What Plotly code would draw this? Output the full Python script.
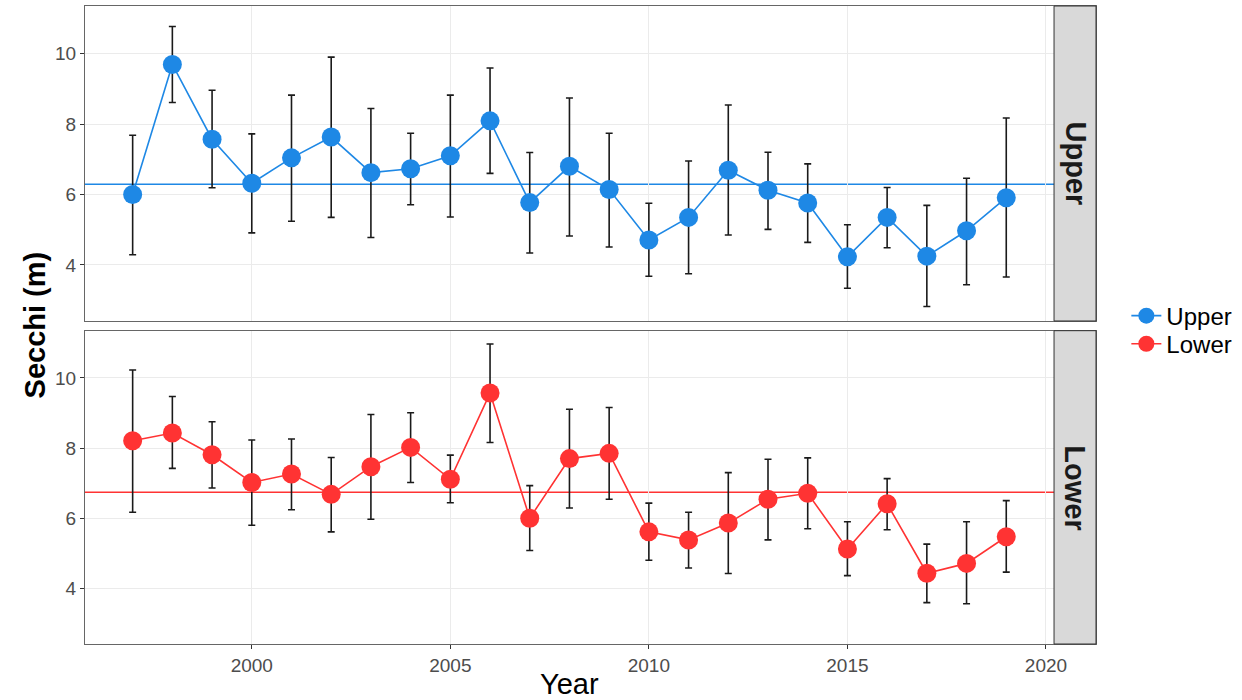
import plotly.graph_objects as go

# ---------------- data ----------------
years = list(range(1997, 2020))

upper_mean = [6.00, 9.69, 7.57, 6.32, 7.04, 7.63, 6.62, 6.73, 7.10, 8.09, 5.77, 6.80,
              6.14, 4.71, 5.35, 6.69, 6.12, 5.76, 4.23, 5.35, 4.25, 4.97, 5.91]
upper_hi = [7.68, 10.77, 8.96, 7.72, 8.82, 9.90, 8.44, 7.74, 8.82, 9.59, 7.19, 8.74,
            7.74, 5.75, 6.95, 8.54, 7.20, 6.87, 5.14, 6.20, 5.69, 6.46, 8.17]
upper_lo = [4.29, 8.61, 6.19, 4.91, 5.24, 5.35, 4.78, 5.71, 5.36, 6.60, 4.34, 4.82,
            4.51, 3.68, 3.75, 4.85, 5.01, 4.64, 3.34, 4.49, 2.82, 3.44, 3.66]

lower_mean = [8.21, 8.43, 7.81, 7.02, 7.26, 6.68, 7.47, 8.02, 7.11, 9.57, 6.00, 7.70,
              7.85, 5.61, 5.38, 5.86, 6.54, 6.71, 5.12, 6.41, 4.43, 4.71, 5.47]
lower_hi = [10.23, 9.47, 8.75, 8.23, 8.26, 7.73, 8.96, 9.01, 7.80, 10.97, 6.93, 9.11,
            9.16, 6.43, 6.17, 7.30, 7.68, 7.72, 5.90, 7.13, 5.26, 5.90, 6.50]
lower_lo = [6.17, 7.42, 6.86, 5.80, 6.24, 5.61, 5.97, 7.02, 6.44, 8.16, 5.08, 6.29,
            6.54, 4.80, 4.58, 4.42, 5.38, 5.70, 4.36, 5.67, 3.59, 3.56, 4.46]

overall_means = {"Upper": 6.29, "Lower": 6.74}
panels = ["Upper", "Lower"]
x_ticks = [2000, 2005, 2010, 2015, 2020]
y_ticks = [4, 6, 8, 10]

# ---------------- styling ----------------
COLORS = {"Upper": "#1E88E5", "Lower": "#FF3333"}
FONT = "Liberation Sans, Arial, Helvetica, sans-serif"
FRAME = "#666666"
GRID = "#ebebeb"
TICKFONT = dict(family=FONT, size=19, color="#4d4d4d")

X_RANGE = [1995.80, 2021.26]
Y_RANGE = [2.41, 11.35]
UP_DOM = [0.5063, 1.0]
LO_DOM = [0.0, 0.4911]
STRIP_X0 = 0.9585

data = {
    "Upper": (upper_mean, upper_hi, upper_lo, "x2", "y2", "legend", 0.514),
    "Lower": (lower_mean, lower_hi, lower_lo, "x", "y", "legend2", 0.470),
}

fig = go.Figure()

# error bars first (below lines and points)
for p in panels:
    m, hi, lo, xa, ya, _, _ = data[p]
    fig.add_trace(go.Scatter(
        x=years, y=m, mode="markers", xaxis=xa, yaxis=ya,
        marker=dict(size=1, color="rgba(0,0,0,0)"),
        error_y=dict(type="data", symmetric=False,
                     array=[h - v for h, v in zip(hi, m)],
                     arrayminus=[v - l for l, v in zip(lo, m)],
                     color="#1a1a1a", thickness=1.6, width=3.5),
        showlegend=False, hoverinfo="skip",
    ))

for p in panels:
    m, hi, lo, xa, ya, lg, _ = data[p]
    fig.add_trace(go.Scatter(
        x=years, y=m, mode="lines+markers", xaxis=xa, yaxis=ya, name=p,
        legend=lg,
        line=dict(color=COLORS[p], width=1.6),
        marker=dict(size=19, color=COLORS[p], line=dict(width=0)),
    ))

axis_common = dict(
    showline=True, linecolor=FRAME, linewidth=1, mirror=True,
    showgrid=True, gridcolor=GRID, gridwidth=1.3, zeroline=False,
    ticklen=4, tickcolor="#333333", tickwidth=1,
    tickfont=TICKFONT, automargin=False,
)

legend_common = dict(xanchor="left", yanchor="middle",
                     font=dict(family=FONT, size=24, color="black"),
                     bgcolor="rgba(0,0,0,0)", itemwidth=30)

fig.update_layout(
    width=1242, height=700,
    margin=dict(l=85, r=145, t=6, b=56),
    paper_bgcolor="white", plot_bgcolor="white",
    font=dict(family=FONT),
    xaxis=dict(domain=[0, 1], anchor="y", range=X_RANGE, tickvals=x_ticks,
               ticks="outside", **axis_common),
    xaxis2=dict(domain=[0, 1], anchor="y2", range=X_RANGE, tickvals=x_ticks,
                matches="x", showticklabels=False, ticks="", **axis_common),
    yaxis=dict(domain=LO_DOM, anchor="x", range=Y_RANGE, tickvals=y_ticks,
               ticks="outside", **axis_common),
    yaxis2=dict(domain=UP_DOM, anchor="x2", range=Y_RANGE, tickvals=y_ticks,
                ticks="outside", **axis_common),
    legend=dict(x=1.029, y=data["Upper"][6], **legend_common),
    legend2=dict(x=1.029, y=data["Lower"][6], **legend_common),
)

# overall mean lines
for p, ya in (("Upper", "y2"), ("Lower", "y")):
    fig.add_shape(type="line", xref="paper", yref=ya, x0=0, x1=STRIP_X0,
                  y0=overall_means[p], y1=overall_means[p],
                  line=dict(color=COLORS[p], width=1.6), layer="below")

# facet strips on the right
for p, dom in (("Upper", UP_DOM), ("Lower", LO_DOM)):
    fig.add_shape(type="rect", xref="paper", yref="paper", x0=STRIP_X0, x1=1,
                  y0=dom[0], y1=dom[1], fillcolor="#d9d9d9",
                  line=dict(color="#333333", width=1), layer="above")
    fig.add_annotation(text=f"<b>{p}</b>", xref="paper", yref="paper",
                       x=(STRIP_X0 + 1) / 2, y=(dom[0] + dom[1]) / 2,
                       xanchor="center", yanchor="middle",
                       textangle=90, showarrow=False,
                       font=dict(family=FONT, size=29, color="#1a1a1a"))

# shared y-axis title
fig.add_annotation(text="<b>Secchi (m)</b>", xref="paper", yref="paper",
                   x=-0.049, y=0.5, xanchor="center", yanchor="middle",
                   textangle=-90, showarrow=False,
                   font=dict(family=FONT, size=29, color="black"))

# x-axis title, centred on the panel area (excluding the strip)
fig.add_annotation(text="Year", xref="paper", yref="paper",
                   x=STRIP_X0 / 2, y=-0.0625, xanchor="center", yanchor="middle",
                   showarrow=False,
                   font=dict(family=FONT, size=29, color="black"))

fig.write_html("out.html", post_script="document.body.style.margin='0';",
               config={"displayModeBar": False})
